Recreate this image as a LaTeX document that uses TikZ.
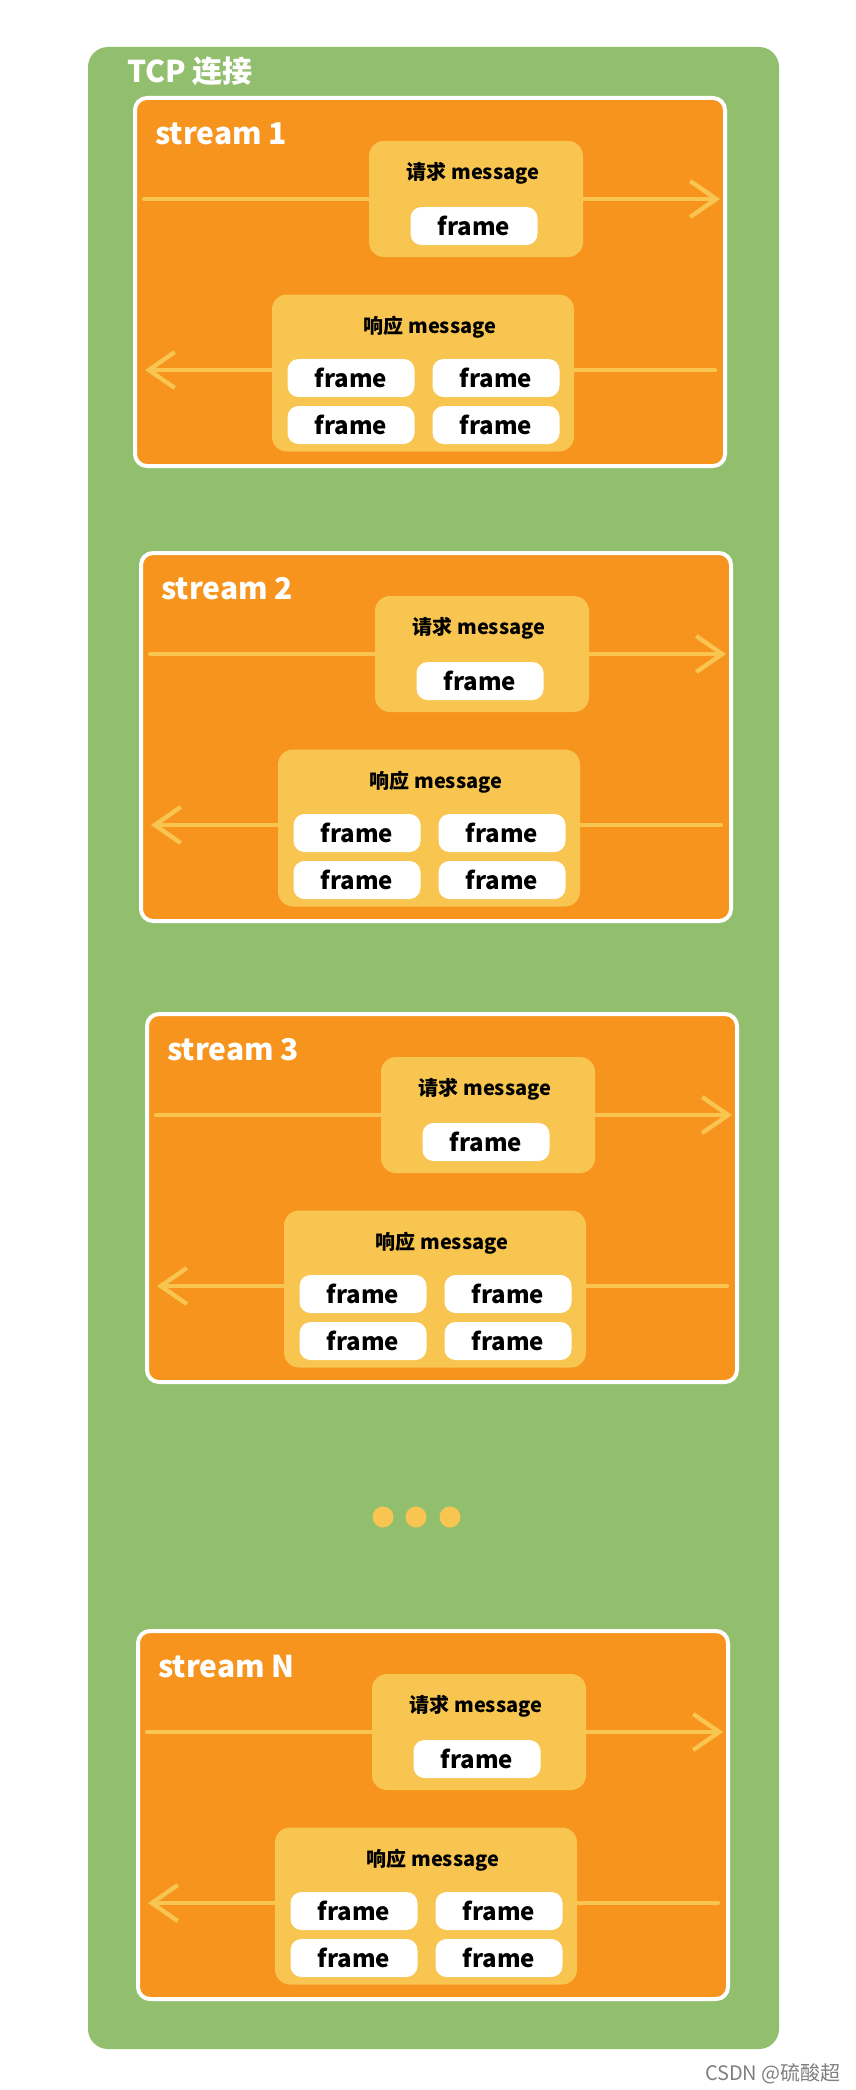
\documentclass[tikz,border=0pt]{standalone}
\usepackage{fontspec}
\setmainfont{Noto Sans CJK SC}
\usetikzlibrary{arrows.meta,positioning}

\definecolor{tcpgreen}{HTML}{92BF6E}
\definecolor{streamorange}{HTML}{F7941E}
\definecolor{msgyellow}{HTML}{F8C550}
\definecolor{markgrey}{HTML}{7F7F7F}

\tikzset{
  conn/.style={fill=tcpgreen, rounded corners=20pt, inner sep=0pt},
  streambox/.style={fill=streamorange, draw=white, line width=4pt, rounded corners=12pt,
    inner sep=0pt, minimum width=590pt, minimum height=368pt},
  msgbox/.style={fill=msgyellow, rounded corners=15pt, inner sep=0pt},
  framebox/.style={fill=white, rounded corners=11pt, inner sep=0pt,
    minimum width=127pt, minimum height=38pt, font=\bfseries\fontsize{24}{24}\selectfont},
  msglabel/.style={inner sep=0pt, font=\bfseries\fontsize{20}{20}\selectfont},
  whitelabel/.style={text=white, inner sep=0pt, anchor=west, font=\bfseries\fontsize{30}{30}\selectfont},
  flowline/.style={draw=msgyellow, line width=4.3pt, line cap=round},
  flowtip/.style={-{Straight Barb[length=26pt,width=36pt,line width=4.3pt]}},
  dot/.style={circle, fill=msgyellow, minimum size=21pt, inner sep=0pt}
}

\begin{document}
\begin{tikzpicture}[x=1pt,y=-1pt]
  \useasboundingbox (0,0) rectangle (855,2090);
  \node[conn, minimum width=691pt, minimum height=2002pt] (tcp) at (433.5,1048) {};
  \node[whitelabel] (title) at (127,71) {TCP 连接};

  % streams: index/label/top left corner
  \foreach \i/\n/\dx/\dy in {1/1/133/96, 2/2/139/551, 3/3/145/1012, 4/N/136/1629}{
    \begin{scope}[shift={(\dx,\dy)}]
      \node[streambox] (st\i) at (297,186) {};
      \node[whitelabel] (name\i) at (22,38) {stream \n};
      % request
      \node[msgbox, minimum width=214pt, minimum height=116pt] (req\i) at (343,103) {};
      \node[msglabel] (reqtxt\i) at (340,77) {请求 message};
      \node[framebox] (reqfr\i) at (341,130) {frame};
      % response
      \node[msgbox, minimum width=302pt, minimum height=157pt] (res\i) at (290,277) {};
      \node[msglabel] (restxt\i) at (297,231) {响应 message};
      \node[framebox] (frtl\i) at (218,282) {frame};
      \node[framebox] (frtr\i) at (363,282) {frame};
      \node[framebox] (frbl\i) at (218,329) {frame};
      \node[framebox] (frbr\i) at (363,329) {frame};
      % flows
      \draw[flowline] ([xshift=11pt]st\i.west |- req\i.west) -- (req\i.west);
      \draw[flowline, flowtip] (req\i.east) -- ([xshift=-7pt]st\i.east |- req\i.east);
      \draw[flowline] ([yshift=3pt]res\i.east) -- ([xshift=-12pt,yshift=3pt]st\i.east |- res\i.east);
      \draw[flowline, flowtip] ([yshift=3pt]res\i.west) -- ([xshift=12pt,yshift=3pt]st\i.west |- res\i.west);
    \end{scope}
  }

  \foreach \k/\xx in {1/383, 2/416, 3/450}
    \node[dot] (dot\k) at (\xx,1517) {};

  \node[text=markgrey, font=\fontsize{20}{20}\selectfont, anchor=east, inner sep=0pt] (mark) at (841,2074) {CSDN @硫酸超};
\end{tikzpicture}
\end{document}
